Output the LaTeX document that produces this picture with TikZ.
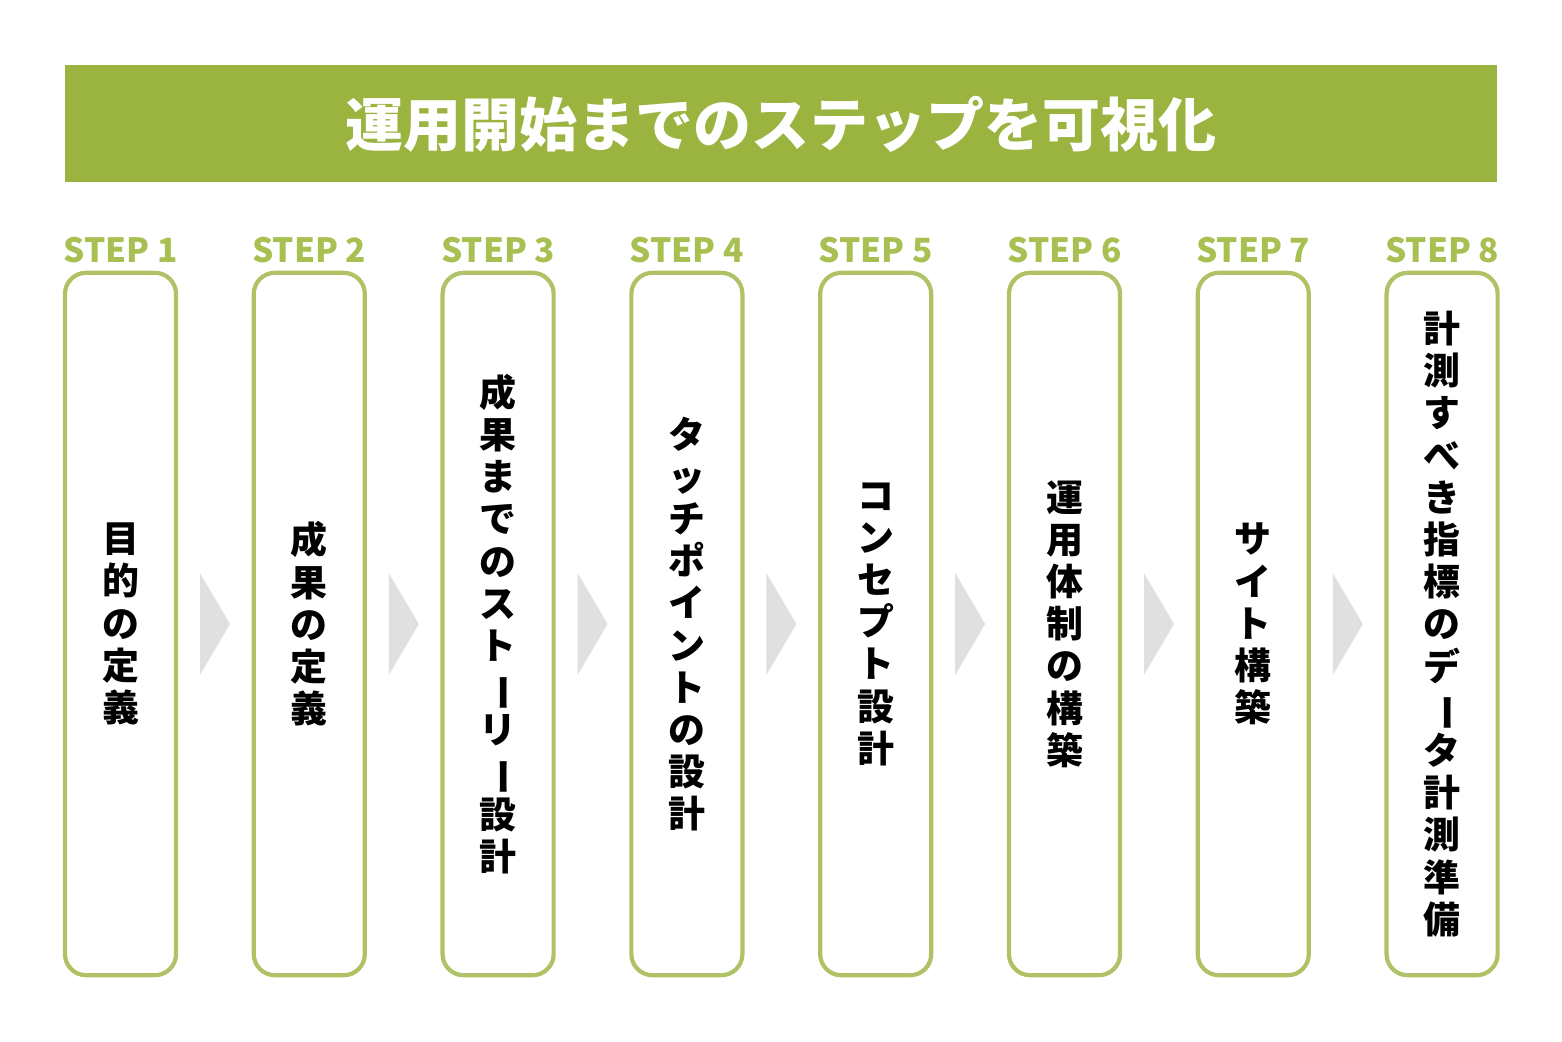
\documentclass[tikz,border=0pt]{standalone}
\usepackage{fontspec}
\usepackage{graphicx}
\newfontfamily\cjk{Noto Sans CJK JP}
\definecolor{stepgreen}{HTML}{9BB33F}
\definecolor{steplabel}{HTML}{A8C052}
\definecolor{arrowgray}{HTML}{E0E0E0}
\newcommand{\vbar}{\rotatebox[origin=c]{-90}{ー}}
\begin{document}
\begin{tikzpicture}
    [
    x=0.01cm, y=-0.01cm
    , stepbox/.style = {draw=stepgreen!80, line width=1.2pt, rounded corners=6pt, minimum width=1.11cm, minimum height=7.02cm, inner sep=0pt}
    , steplabel/.style = {text=steplabel, font=\cjk\bfseries\fontsize{9.5}{10}\selectfont}
    , steptext/.style = {align=center, font=\cjk\bfseries\fontsize{10.5}{12}\selectfont, text width=0.5cm}
    , chevron/.style = {fill=arrowgray, draw=none}
    ]
\useasboundingbox (0,0) rectangle (1562,1041);
\fill[stepgreen] (65,65) rectangle (1497,182);
\node[text=white, font=\cjk\bfseries\fontsize{16.5}{18}\selectfont] (title) at (781,124) {運用開始までのステップを可視化};

\foreach \i/\txt in {1/目\\的\\の\\定\\義,
                     2/成\\果\\の\\定\\義,
                     3/成\\果\\ま\\で\\の\\ス\\ト\\\vbar\\リ\\\vbar\\設\\計,
                     4/タ\\ッ\\チ\\ポ\\イ\\ン\\ト\\の\\設\\計,
                     5/コ\\ン\\セ\\プ\\ト\\設\\計,
                     6/運\\用\\体\\制\\の\\構\\築,
                     7/サ\\イ\\ト\\構\\築,
                     8/計\\測\\す\\べ\\き\\指\\標\\の\\デ\\\vbar\\タ\\計\\測\\準\\備}
{
  \pgfmathsetmacro\cx{120.5+188.8*(\i-1)}
  \node[stepbox] (box\i) at (\cx,624) {};
  \node[steplabel] (lab\i) at (\cx,250) {STEP \i};
  \node[steptext] (txt\i) at (\cx,624) {\txt};
}

\foreach \i in {1,...,7}
{
  \pgfmathsetmacro\ax{200+188.8*(\i-1)}
  \fill[chevron] (\ax,573) -- (\ax+30,624) -- (\ax,675) -- cycle;
}
\end{tikzpicture}
\end{document}
